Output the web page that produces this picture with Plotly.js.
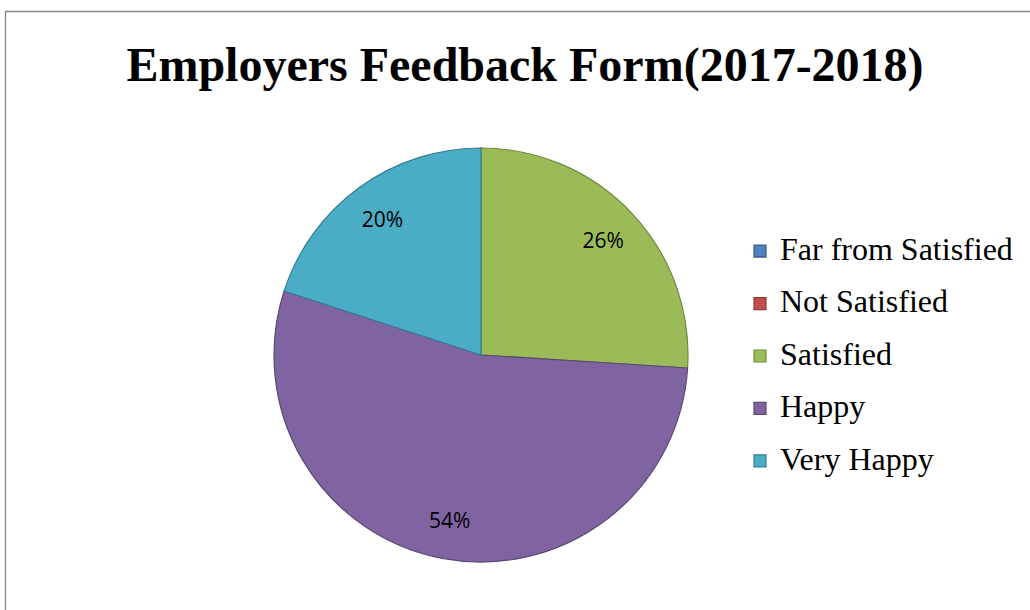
<!DOCTYPE html>
<html>
<head>
<meta charset="utf-8">
<script src="https://cdn.plot.ly/plotly-3.0.1.min.js"></script>
<style>html,body{margin:0;padding:0;background:#fff;}#chart{width:1030px;height:610px;}</style>
</head>
<body>
<div id="chart"></div>
<script>
const categories = ["Far from Satisfied", "Not Satisfied", "Satisfied", "Happy", "Very Happy"];
const values = [0, 0, 26, 54, 20];
const sliceColors = ["#4F81BD", "#C0504D", "#9BBB59", "#8064A2", "#4BACC6"];
const sliceBorders = ["#385D8A", "#8C3836", "#71893F", "#5C4776", "#357D91"];
const titleText = "Employers Feedback Form(2017-2018)";

const W = 1030, H = 610;
const cx = 481, cy = 355, R = 207;
const pieDomain = { x: [(cx - R) / W, (cx + R) / W], y: [(H - cy - R) / H, (H - cy + R) / H] };
const legendLabels = categories.map(c => '<span style="font-size:32px;baseline-shift:6px">' + c + '</span>');

// Main pie: slices + legend, no text
const pieTrace = {
  type: "pie",
  labels: legendLabels,
  values: values,
  sort: false,
  direction: "clockwise",
  rotation: 0,
  marker: { colors: sliceColors, line: { color: sliceBorders, width: 1.2 } },
  textinfo: "none",
  hoverinfo: "label+percent",
  domain: pieDomain
};

// Transparent ring carrying the percentage labels (places them near the outer part of each slice)
const labelTrace = {
  type: "pie",
  labels: legendLabels,
  values: values,
  sort: false,
  direction: "clockwise",
  rotation: 0,
  hole: 0.62,
  showlegend: false,
  marker: { colors: values.map(() => "rgba(0,0,0,0)"), line: { width: 0 } },
  texttemplate: values.map(v => v > 0 ? "%{percent:.0%}" : ""),
  textposition: "inside",
  insidetextorientation: "horizontal",
  textfont: { family: "Open Sans, sans-serif", size: 21, color: "#000000" },
  hoverinfo: "skip",
  domain: pieDomain
};

const layout = {
  width: W, height: H,
  margin: { l: 0, r: 0, t: 0, b: 0 },
  paper_bgcolor: "#ffffff",
  title: {
    text: "<b>" + titleText + "</b>",
    font: { family: "Liberation Serif, Times New Roman, serif", size: 48, color: "#000000" },
    x: 525 / W, xanchor: "center", y: 1 - 64 / H, yanchor: "middle"
  },
  showlegend: true,
  legend: {
    font: { family: "Liberation Serif, Times New Roman, serif", size: 38, color: "#000000" },
    x: 740 / W, xanchor: "left", y: 1 - 356 / H, yanchor: "middle",
    bgcolor: "rgba(0,0,0,0)", traceorder: "normal"
  },
  shapes: [{
    type: "rect", xref: "paper", yref: "paper",
    x0: 5.5 / W, x1: 1.02, y0: -0.02, y1: 1 - 11.5 / H,
    line: { color: "#868686", width: 1.3 }, fillcolor: "rgba(0,0,0,0)", layer: "below"
  }]
};

Plotly.newPlot("chart", [pieTrace, labelTrace], layout, { displayModeBar: false, staticPlot: true });
</script>
</body>
</html>
